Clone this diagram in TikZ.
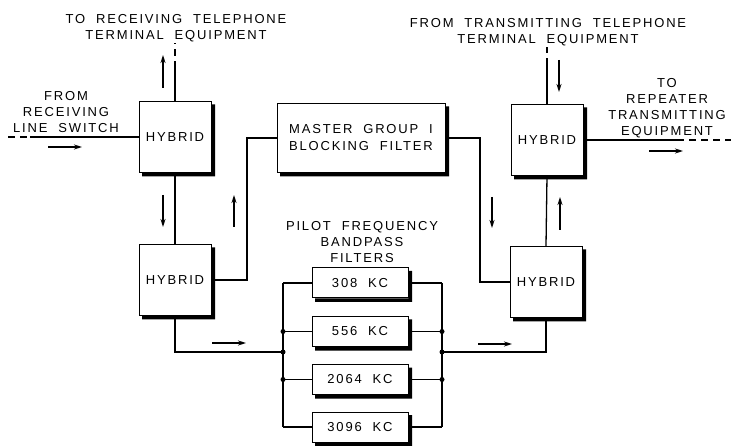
\documentclass[tikz,border=0pt]{standalone}
\usepackage{fontspec}
\setmainfont{Liberation Sans}[LetterSpace=14, WordSpace=2]
\usetikzlibrary{arrows.meta}
\begin{document}
\begin{tikzpicture}[x=1pt,y=-1pt,
  box/.style={draw, line width=1pt, fill=white, inner sep=0pt, align=center,
    font=\fontsize{13}{17}\selectfont},
  hyb/.style={box, minimum width=72pt, minimum height=71pt},
  filt/.style={box, minimum width=96pt, minimum height=30pt},
  wire/.style={line width=1.3pt},
  dwire/.style={line width=1.3pt, dash pattern=on 7pt off 5pt},
  flow/.style={line width=1.4pt, -{Stealth[length=8pt,width=5pt]}},
  lbl/.style={align=center, inner sep=0pt, font=\fontsize{13}{16}\selectfont},
  dot/.style={circle, fill=black, inner sep=0pt, minimum size=5pt},
  shadowfill/.style={fill=black, draw=none}]
\useasboundingbox (0,0) rectangle (731,446);

% boxes
\node[hyb] (hTL) at (175,137) {HYBRID};
\node[hyb] (hBL) at (175,280) {HYBRID};
\node[box, minimum width=168pt, minimum height=69pt] (mg) at (361,138) {MASTER GROUP I\\BLOCKING FILTER};
\node[hyb] (hTR) at (547,140) {HYBRID};
\node[hyb] (hBR) at (546,282) {HYBRID};
\node[filt] (f1) at (360,283) {308 KC};
\node[filt] (f2) at (360,331.5) {556 KC};
\node[filt] (f3) at (360,379.5) {2064 KC};
\node[filt] (f4) at (360,427) {3096 KC};

% drop shadows (L-shaped, right and bottom)
\foreach \n in {hTL,hBL,mg,hTR,hBR,f1,f2,f3,f4}
  \path[shadowfill] ([shift={(0,3.5)}]\n.north east) -- ([shift={(3.5,3.5)}]\n.north east)
    -- ([shift={(3.5,3.5)}]\n.south east) -- ([shift={(3.5,3.5)}]\n.south west)
    -- ([shift={(3.5,0)}]\n.south west) -- (\n.south east) -- cycle;

% labels
\node[lbl] (tTL) at (176,28.5) {TO RECEIVING TELEPHONE\\TERMINAL EQUIPMENT};
\node[lbl] (tIn) at (66,112) {FROM\\RECEIVING\\LINE SWITCH};
\node[lbl] (tTR) at (548,32) {FROM TRANSMITTING TELEPHONE\\TERMINAL EQUIPMENT};
\node[lbl] (tOut) at (667,108) {TO\\REPEATER\\TRANSMITTING\\EQUIPMENT};
\node[lbl] (tPF) at (362,242) {PILOT FREQUENCY\\BANDPASS\\FILTERS};

% coordinates
\coordinate (inA) at (8,137);
\coordinate (inB) at (30,137);
\coordinate (upA) at (175,68);
\coordinate (upB) at (175,43);
\coordinate (dnA) at (547,65);
\coordinate (dnB) at (547,47);
\coordinate (outA) at (677,140);
\coordinate (outB) at (731,140);
\coordinate (lb1) at (283,283);
\coordinate (lb2) at (283,331.5);
\coordinate (lbm) at (283,352);
\coordinate (lb3) at (283,379.5);
\coordinate (lb4) at (283,427);
\coordinate (rb1) at (442,283);
\coordinate (rb2) at (442,331.5);
\coordinate (rbm) at (442,352);
\coordinate (rb3) at (442,379.5);
\coordinate (rb4) at (442,427);

% wires
\draw[dwire] (inA) -- (inB);
\draw[wire] (inB) -- (hTL.west);
\draw[wire] (hTL.north) -- (upA);
\draw[dwire] (upA) -- (upB);
\draw[wire] (hTL.south) -- (hBL.north);
\draw[wire] (mg.west |- 0,138) -- (247,138) -- (247,280) -- (hBL.east);
\draw[wire] (hBL.south) -- (175,352) -- (lbm);
\draw[wire] (lb1) -- (lb4);
\draw[wire] (rb1) -- (rb4);
\foreach \i in {1,2,3,4} {
  \draw[wire] (lb\i) -- (f\i.west);
  \draw[wire] (f\i.east) -- (rb\i);
}
\draw[wire] (rbm) -- (546,352) -- (hBR.south);
\draw[wire] (hBR.west) -- (480,282) -- (480,138) -- (mg.east |- 0,138);
\draw[wire] (hBR.north) -- (hTR.south);
\draw[wire] (hTR.north) -- (dnA);
\draw[dwire] (dnA) -- (dnB);
\draw[wire] (hTR.east) -- (outA);
\draw[dwire] (outA) -- (outB);

\foreach \p in {lb2,lbm,lb3,rb2,rbm,rb3} \node[dot] at (\p) {};

% flow arrows
\draw[flow] (48,147) -- (82,147);
\draw[flow] (163,88) -- (163,55);
\draw[flow] (163,195) -- (163,227);
\draw[flow] (234,227) -- (234,195);
\draw[flow] (212,343) -- (246,343);
\draw[flow] (492,197) -- (492,228);
\draw[flow] (560,230) -- (560,197);
\draw[flow] (478,344) -- (512,344);
\draw[flow] (559,60) -- (559,92);
\draw[flow] (649,151) -- (683,151);
\end{tikzpicture}
\end{document}
